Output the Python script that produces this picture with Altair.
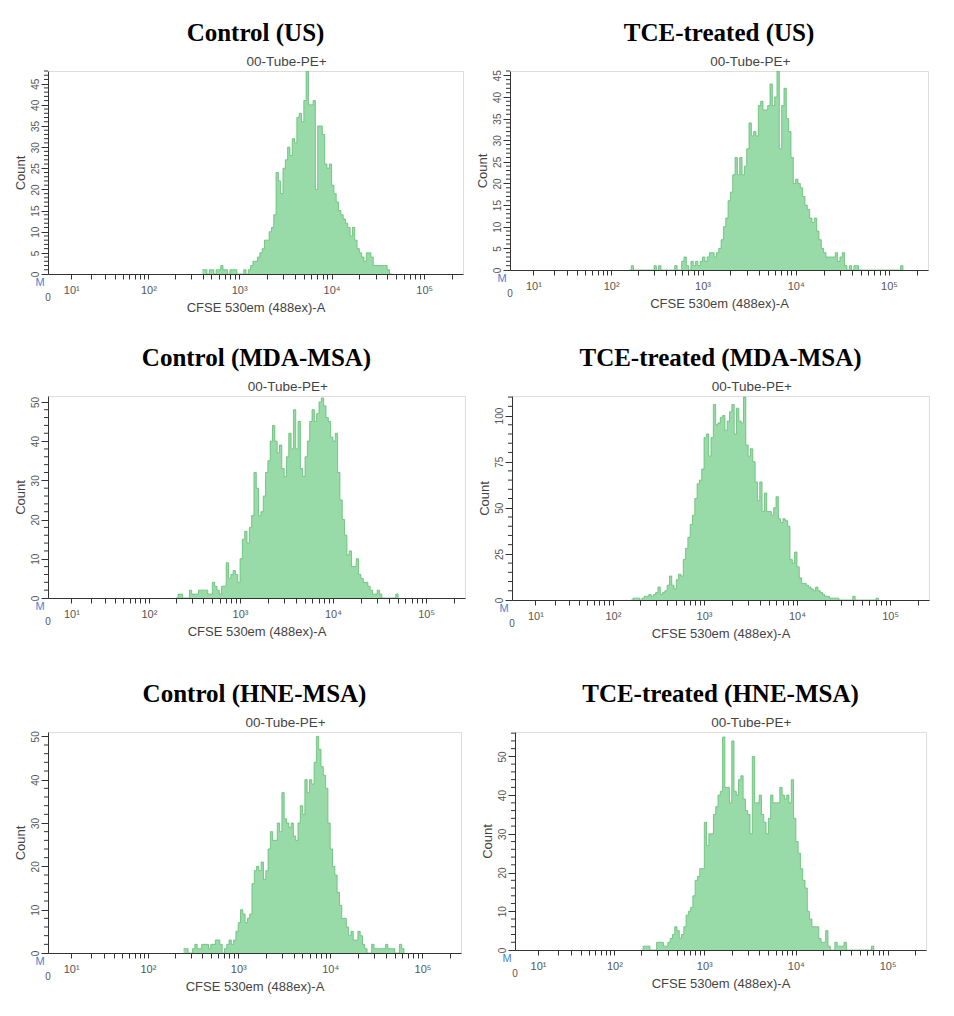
import altair as alt
import pandas as pd

STEP = 0.025  # bin width in decades

panel_titles = ["Control (US)", "TCE-treated (US)",
                "Control (MDA-MSA)", "TCE-treated (MDA-MSA)",
                "Control (HNE-MSA)", "TCE-treated (HNE-MSA)"]

# first bin (log10 of CFSE intensity) of each histogram
start_exp = [2.6, 2.2, 2.3, 2.2, 2.4, 2.3]

counts_ctrl_us = [1,1,0,1,1,0,1,1,2,1, 1,0,1,1,1,0,0,0,1,0,
                  1,2,3,3,4,5,6,8,8,10, 11,14,24,22,19,25,27,30,28,32,
                  31,37,38,36,41,48,40,40,41,20, 35,35,33,26,25,26,21,19,17,15,
                  14,13,12,11,9,11,8,6,5,4, 3,5,5,4,2,2,2,2,2,2, 1,0]
counts_tce_us = [0,1,0,0,0,0,0,0,0,0, 0,1,0,1,0,0,0,0,0,0,
                 1,0,0,2,3,1,0,2,1,2, 1,2,3,2,3,4,4,3,4,5,
                 7,10,12,16,18,22,26,22,26,22, 24,28,34,31,32,31,38,39,37,37,
                 38,43,38,40,46,28,38,42,35,32, 26,20,21,20,19,17,15,14,12,11,
                 12,9,7,5,4,3,3,3,3,4, 2,3,4,1,0,1,0,1,1,0,
                 0,0,0,0,0,0,0,0,0,0, 0,0,0,0,0,0,0,1]
counts_ctrl_mda = [0,1,1,0,0,0,2,1,1,1, 2,2,2,2,1,1,4,3,2,1,
                   3,3,9,5,6,7,6,4,10,15, 17,14,18,21,32,28,21,22,26,32,
                   35,40,44,40,37,39,33,31,36,42, 38,48,38,45,33,31,36,40,45,48,
                   45,47,50,51,49,46,45,41,40,42, 32,25,20,16,11,12,8,8,10,6,
                   5,4,4,3,2,1,1,2,1,0, 0,0,0,0,0,1]
counts_tce_mda = [0,1,1,1,0,1,2,2,3,2, 3,4,7,3,4,5,8,13,8,6,
                  11,14,13,22,28,34,41,46,55,63, 65,71,88,90,78,88,106,95,96,99,
                  100,92,97,102,106,90,104,97,96,110, 84,78,82,75,64,54,64,48,58,48,
                  48,46,50,56,44,42,44,43,40,22, 20,26,18,12,9,9,8,7,6,5,
                  7,5,4,3,2,2,1,1,1,1, 0,0,0,0,0,0,2,0,0,0, 0,0,0,0,0,0,1]
counts_ctrl_hne = [1,1,0,0,1,2,1,1,2,2, 2,1,2,2,3,3,2,0,1,2,
                   3,2,3,5,7,10,9,7,8,9, 16,19,20,19,21,17,19,24,28,26,
                   26,30,28,37,31,30,29,30,27,26, 30,34,32,40,37,40,39,44,50,47,
                   43,41,38,30,24,20,18,14,11,8, 8,6,4,5,3,3,5,4,2,1,
                   0,0,2,1,1,1,1,1,2,1, 1,1,0,0,2,1]
counts_tce_hne = [0,1,1,1,0,0,0,2,2,2, 1,1,2,3,4,6,5,3,4,6,
                  9,10,11,14,18,19,21,21,33,27, 30,30,35,37,40,41,55,42,42,38,
                  54,41,40,44,45,39,36,35,30,50, 38,38,40,35,33,30,34,40,38,38,
                  38,42,40,39,40,38,44,34,28,25, 21,18,16,10,8,6,6,6,3,2,
                  2,5,1,0,0,2,1,1,1,2, 0,0,0,0,0,0,0,0,0,0, 0,1]

all_counts = [counts_ctrl_us, counts_tce_us, counts_ctrl_mda,
              counts_tce_mda, counts_ctrl_hne, counts_tce_hne]

y_max = [48, 46, 51.5, 110.6, 51, 56.3]
y_major = [5, 5, 10, 25, 10, 10]
y_minor = [1, 1, 2, 5, 2, 2]

x_ticks = [10, 20, 30, 40, 50, 60, 70, 80, 90,
           100, 200, 300, 400, 500, 600, 700, 800, 900,
           1000, 2000, 3000, 4000, 5000, 6000, 7000, 8000, 9000,
           10000, 20000, 30000, 40000, 50000, 60000, 70000, 80000, 90000,
           100000, 200000]
x_domain = [3.2, 262144]

sub_title = "00-Tube-PE+"
x_title = "CFSE 530em (488ex)-A"
y_title = "Count"

FILL = "#98dba8"
LINE = "#62bd72"
AX = "#333333"
TXT = "#555555"
SANS = "Liberation Sans"

label_expr = ("datum.value == 10 ? '10¹' : datum.value == 100 ? '10²' : "
              "datum.value == 1000 ? '10³' : datum.value == 10000 ? '10⁴' : "
              "datum.value == 100000 ? '10⁵' : ''")

sizes = [(415, 203), (418, 199), (417, 202), (417, 204), (413, 221), (411, 218)]


def panel(k):
    counts = all_counts[k]
    start = start_exp[k]
    w, h = sizes[k]
    xs = [10 ** (start + i * STEP) for i in range(len(counts))]
    xs.append(10 ** (start + len(counts) * STEP))
    df = pd.DataFrame({"x": xs, "count": list(counts) + [0]})

    xscale = alt.Scale(type="symlog", constant=5.5, domain=x_domain, zero=False)
    yscale = alt.Scale(domain=[0, y_max[k]], nice=False, zero=False)

    majors = list(range(0, int(y_max[k]) + 1, y_major[k]))
    minors = [v for v in range(0, int(y_max[k]) + 1, y_minor[k]) if v % y_major[k] != 0]

    yaxis = alt.Axis(
        values=majors, tickSize=7, tickColor=AX, domainColor=AX,
        labelAngle=270, labelColor=TXT, labelFont=SANS, labelFontSize=10,
        labelPadding=1, labelFlush=False, labelOverlap=False, grid=False,
        title=y_title, titleFont=SANS, titleFontSize=13, titleFontWeight="normal",
        titleColor="#444444", titlePadding=3)

    area = alt.Chart(df).mark_area(
        interpolate="step-after", color=FILL, opacity=1, clip=True,
        line={"color": LINE, "strokeWidth": 0.8},
    ).encode(
        x=alt.X("x:Q", scale=xscale, axis=alt.Axis(
            values=x_ticks, labelExpr=label_expr, tickSize=5, tickColor=AX,
            domainColor=AX, labelColor=TXT, labelFont=SANS, labelFontSize=11,
            labelFlush=False, labelOverlap=False, labelPadding=5, grid=False,
            title=x_title, titleFont=SANS, titleFontSize=13, titleFontWeight="normal",
            titleColor="#444444", titlePadding=6)),
        y=alt.Y("count:Q", scale=yscale, axis=yaxis),
    )

    minor_rules = alt.Chart(pd.DataFrame({"count": minors})).mark_rule(
        color=AX, strokeWidth=1).encode(
        y=alt.Y("count:Q", scale=yscale, axis=yaxis),
        x=alt.value(-4), x2=alt.value(0))

    one = pd.DataFrame({"t": [sub_title]})
    sub = alt.Chart(one).mark_text(font=SANS, fontSize=13.5, color="#444444",
                                   baseline="bottom").encode(
        text="t:N", x=alt.value(w * 0.575), y=alt.value(-2))
    zero = alt.Chart(pd.DataFrame({"t": ["0"]})).mark_text(
        font=SANS, fontSize=10, color=TXT, baseline="middle").encode(
        text="t:N", x=alt.value(0), y=alt.value(h + 24))
    mlab = alt.Chart(pd.DataFrame({"t": ["M"]})).mark_text(
        font=SANS, fontSize=11, color="#4a7fd4", baseline="middle").encode(
        text="t:N", x=alt.value(-8), y=alt.value(h + 9))

    return alt.layer(minor_rules, area, sub, zero, mlab).properties(
        width=w, height=h,
        title=alt.TitleParams(text=panel_titles[k], font="Liberation Serif",
                              fontSize=25, fontWeight="bold", color="#000000",
                              anchor="middle", frame="group", offset=9))


row1 = alt.hconcat(panel(0), panel(1), spacing=11)
row2 = alt.hconcat(panel(2), panel(3), spacing=11)
row3 = alt.hconcat(panel(4), panel(5), spacing=18)

top = alt.vconcat(row1, row2, spacing=30)
chart = alt.vconcat(top, row3, spacing=40).configure_view(
    stroke="#777777", strokeWidth=1).configure(
    background="white", padding={"left": 5, "top": 12, "right": 5, "bottom": 5})

chart.save("out.html", embed_options={"renderer": "svg", "actions": False})
